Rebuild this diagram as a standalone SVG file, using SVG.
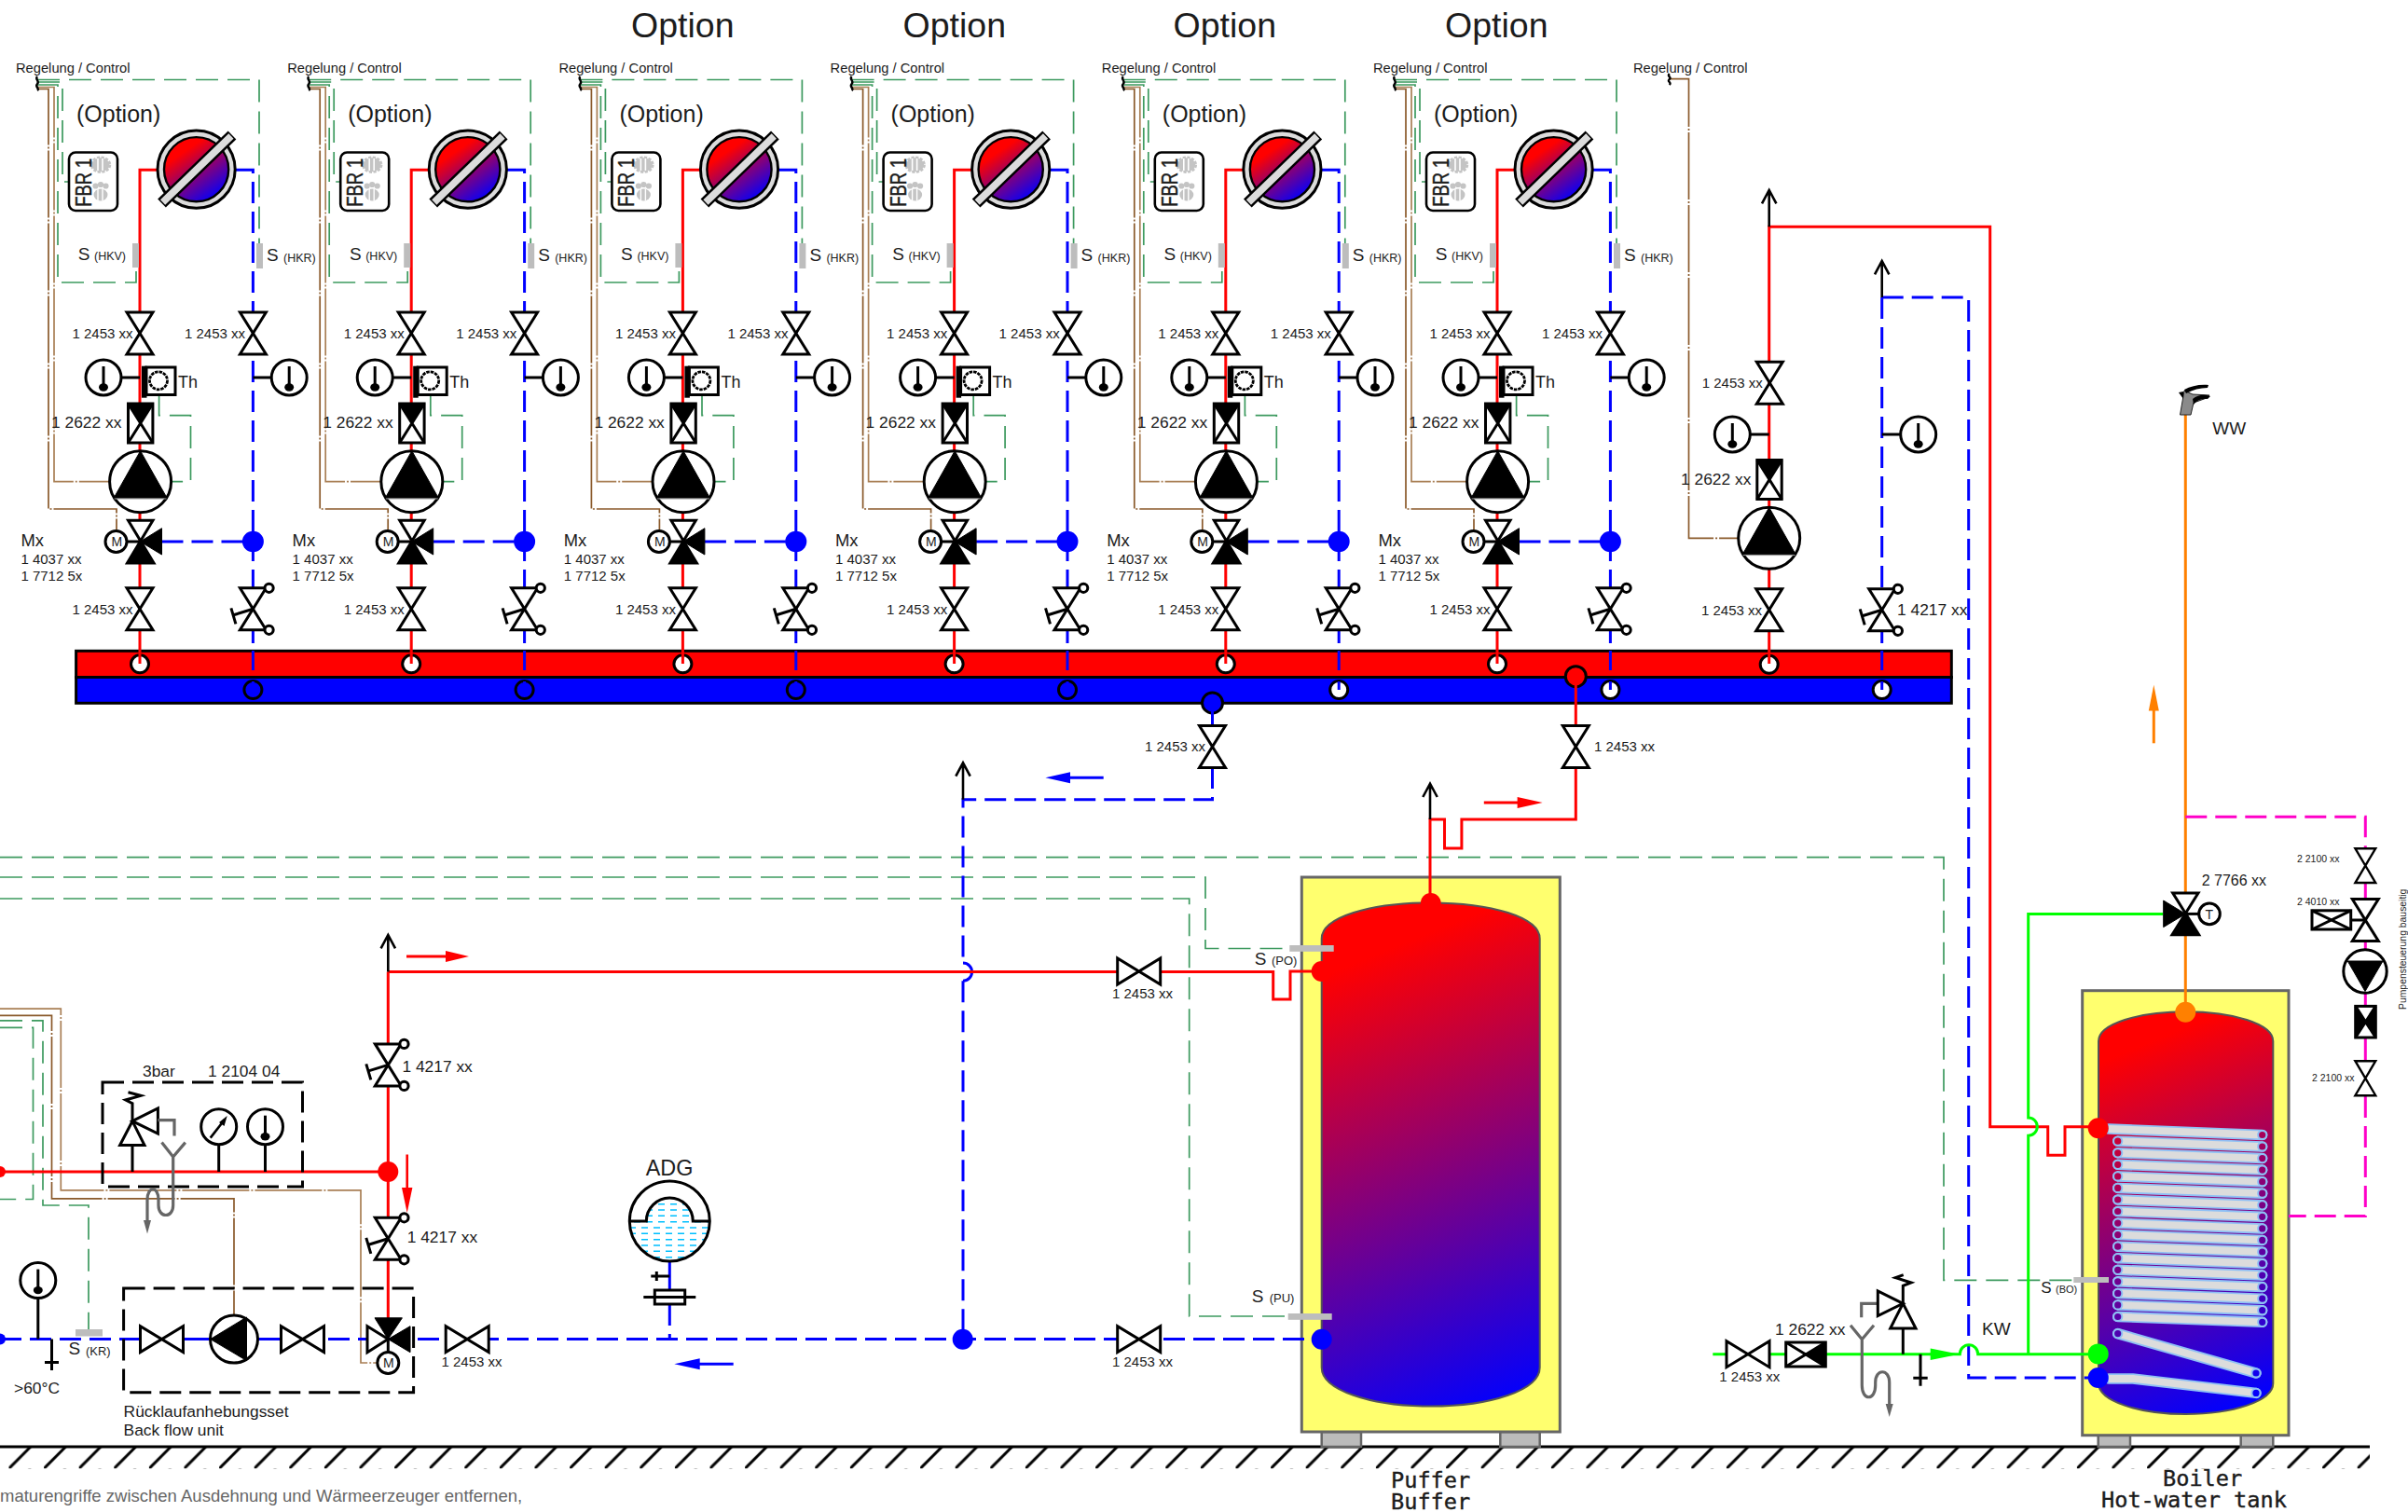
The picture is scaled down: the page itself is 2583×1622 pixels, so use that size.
<svg xmlns="http://www.w3.org/2000/svg" xmlns:xlink="http://www.w3.org/1999/xlink" width="2583" height="1622" viewBox="0 0 2583 1622">
<style>
text{font-family:"Liberation Sans",Arial,sans-serif;fill:#1c1c1c}
.t15{font-size:15px}.t17{font-size:17.4px}.t19{font-size:19px}.t14{font-size:14.7px}
.t12{font-size:12.5px}.t25{font-size:25px}.t37{font-size:37.5px}.t10{font-size:10.5px}.t24{font-size:23.4px}
.fbr{font-size:23px;stroke:#1c1c1c;stroke-width:.4}
.mono{font-family:"DejaVu Sans Mono","Liberation Mono",monospace;font-size:23.6px;stroke:#1c1c1c;stroke-width:.4}
.note{font-size:18.5px;fill:#666}
.p{fill:none}
.red{stroke:#f00;stroke-width:3}
.blue{stroke:#00f;stroke-width:3;stroke-dasharray:23 9}
.blues{stroke:#00f;stroke-width:3}
.green{stroke:#0f0;stroke-width:3}
.orange{stroke:#ff8000;stroke-width:3}
.mag{stroke:#ff00c8;stroke-width:3}
.magd{stroke:#ff00c8;stroke-width:3;stroke-dasharray:23 9}
.ctl{stroke:#3d9a5f;stroke-width:1.7;stroke-dasharray:24 10}
.tan{stroke:#a97f55;stroke-width:1.7;stroke-dasharray:72 2 2 2}
.brn{stroke:#8a5a2b;stroke-width:1.7;stroke-dasharray:72 2 2 2}
.k{fill:none;stroke:#000;stroke-width:3}
.kb{fill:none;stroke:#000;stroke-width:3;stroke-dasharray:23 9}
.w{fill:#fff;stroke:#000;stroke-width:3}
.b{fill:#000;stroke:#000;stroke-width:1}
.drain{fill:none;stroke:#666;stroke-width:3.2}
.sens{fill:#bdbdbd}
.tank{stroke:#666;stroke-width:3;fill:#ffff6e}
.foot{stroke:#666;stroke-width:2.5;fill:#bbb}
.ce{fill:url(#gB);stroke:#8fc0f5;stroke-width:2}
</style>
<defs>
<linearGradient id="gR" x1="0.22" y1="0.1" x2="0.8" y2="0.95"><stop offset="0.15" stop-color="#f00"/><stop offset="1" stop-color="#00f"/></linearGradient>
<linearGradient id="gP" gradientUnits="userSpaceOnUse" x1="1440" y1="1010" x2="1640" y2="1500"><stop offset="0.05" stop-color="#f00"/><stop offset="1" stop-color="#00f"/></linearGradient>
<linearGradient id="gB" gradientUnits="userSpaceOnUse" x1="2270" y1="1110" x2="2430" y2="1500"><stop offset="0.05" stop-color="#f00"/><stop offset="1" stop-color="#00f"/></linearGradient>
<pattern id="hatch" patternUnits="userSpaceOnUse" x="9.5" y="1552" width="37.6" height="23.5"><path d="M0,23.5L23.4,0" stroke="#000" stroke-width="3"/></pattern>
<clipPath id="adgClip"><path d="M675.3,1310H693.3A25,25 0 0 1 743.3,1310H761.3A43,43 0 0 1 675.3,1310Z"/></clipPath>

<path id="gv" class="w" d="M-14,-22.5H14L-14,22.5H14Z"/>
<path id="gh" class="w" d="M-23,-14V14L23,-14V14Z"/>
<g id="hv"><use href="#gv"/><circle class="w" cx="17.2" cy="-22.5" r="4.6"/><circle class="w" cx="17.2" cy="22.5" r="4.6"/><path class="k" d="M0,0L-21,6.5M-23.5,-1L-18.5,16"/></g>
<g id="cv"><rect class="w" x="-13.2" y="-21" width="26.4" height="42"/><path class="b" d="M-13.2,-21H13.2L0,0Z"/><path class="k" d="M-13.2,-21L13.2,21M13.2,-21L-13.2,21"/></g>
<g id="pumpUp"><circle class="w" r="33"/><path class="b" d="M0,-33L28.5,17.5H-28.5Z"/><path d="M-28,18.3H28" stroke="#999" stroke-width="1"/></g>
<g id="th"><circle class="w" r="19"/><path d="M0,-12V10" stroke="#000" stroke-width="3"/><ellipse cx="0" cy="10.5" rx="5" ry="4.2" fill="#000"/></g>

<g id="colPipes" fill="none">
<path class="ctl" d="M40,85.5H278V262"/>
<path class="ctl" d="M40,88H67V195H74"/>
<path class="ctl" d="M40,91H62V303H146V287"/>
<path class="tan" d="M40,93.5H58V516.7H118"/>
<path class="brn" d="M40,95.5H52V546H125V568"/>
<path class="ctl" d="M170.6,423V445.7H204.5V516.7H184"/>
<path class="red" d="M172,182.3H150V712"/>
<path class="blue" d="M252,182.3H271.4V690"/>
<path class="blue" d="M173.5,581H262"/>
<path class="blues" d="M271.4,698V719M271.4,731V740"/>
<path d="M130,405H150M271.4,405H291" stroke="#000" stroke-width="3"/>
</g>

<g id="colNode">
<path d="M40,82c-3,3 3,5 0,8c-3,3 3,5 0,7" fill="none" stroke="#000" stroke-width="2.4"/>
<g id="fbr"><rect x="74" y="163.5" width="52" height="62.5" rx="7" fill="#fff" stroke="#000" stroke-width="2.6"/>
<ellipse cx="108" cy="176.7" rx="9.5" ry="7.5" fill="#c4c4c4" stroke="#c4c4c4" stroke-width="3.5" stroke-dasharray="3 1.5"/><path d="M105,170V183M110,170V183" stroke="#fff" stroke-width="1.6"/>
<ellipse cx="108" cy="209" rx="7.5" ry="6.5" fill="#c4c4c4"/><circle cx="102.5" cy="199.5" r="3.1" fill="#c4c4c4"/><circle cx="108" cy="198" r="3.1" fill="#c4c4c4"/><circle cx="113.5" cy="199.5" r="3.1" fill="#c4c4c4"/><path d="M105,203V215M110,203V215" stroke="#fff" stroke-width="1.4"/></g>
<circle cx="210.6" cy="181.7" r="41.6" fill="#dcdcdc" stroke="#000" stroke-width="3"/>
<circle cx="210.6" cy="181.7" r="34.6" fill="url(#gR)" stroke="#000" stroke-width="2.4"/>
<path d="M173.5,218L249,145" stroke="#000" stroke-width="12.5"/>
<path d="M174.6,217L247.9,146" stroke="#dcdcdc" stroke-width="7.5"/>
<rect class="sens" x="142" y="261" width="7" height="26"/>
<rect class="sens" x="275" y="261" width="7" height="27"/>
<use href="#gv" x="150" y="357.5"/><use href="#gv" x="271.4" y="357.5"/>
<use href="#th" x="111" y="405"/><use href="#th" x="310.2" y="405"/>
<rect x="152" y="392.7" width="5.5" height="34" fill="#000"/><rect class="w" x="157" y="394" width="31" height="29.5" stroke-width="2.6"/>
<circle cx="170" cy="408.3" r="9.5" fill="#fff" stroke="#000" stroke-width="2.8" stroke-dasharray="3.5 1"/>
<use href="#cv" x="150.7" y="454"/>
<use href="#pumpUp" x="150.6" y="516.7"/>
<path class="w" d="M137.5,558.3H164L136.5,604H165Z"/>
<path class="b" d="M150.4,581L136.5,604H165ZM150.4,581L173.5,566.7V595Z"/>
<path class="k" d="M124.5,581H150"/>
<circle class="w" cx="124.5" cy="581" r="11.5" stroke-width="2.5"/>
<ellipse cx="271.4" cy="581" rx="11.5" ry="11.2" fill="#00f"/>
<use href="#gv" x="150" y="653.3"/><use href="#hv" x="271.4" y="653.3"/>
</g>
</defs>

<rect width="2583" height="1622" fill="#fff"/>
<g id="ground"><rect x="0" y="1552" width="2542" height="23.5" fill="url(#hatch)"/><path d="M0,1552H2542" stroke="#000" stroke-width="3"/></g>

<g id="puffer-body">
<rect class="foot" x="1417.7" y="1536" width="42.3" height="16"/><rect class="foot" x="1609.3" y="1536" width="42.4" height="16"/>
<rect class="tank" x="1396.3" y="941" width="277" height="595"/>
<path d="M1417.7,1007C1417.7,984 1470,968.4 1534.7,968.4S1651.7,984 1651.7,1007V1467C1651.7,1491 1600,1508.6 1534.7,1508.6S1417.7,1491 1417.7,1467Z" fill="url(#gP)" stroke="#555" stroke-width="2"/>
</g>
<g id="boiler-body">
<rect class="foot" x="2250.7" y="1539.7" width="34.3" height="12.3"/><rect class="foot" x="2403.7" y="1539.7" width="34.6" height="12.3"/>
<rect class="tank" x="2233.7" y="1062.7" width="221.3" height="477"/>
<path d="M2251,1117C2251,1098 2295,1085.3 2344.6,1085.3S2438.3,1098 2438.3,1117V1484C2438.3,1503 2395,1517 2344.6,1517S2251,1503 2251,1484Z" fill="url(#gB)" stroke="#555" stroke-width="2"/>
</g>
<g id="manifold">
<rect x="81.6" y="698.3" width="2011.7" height="28.2" fill="#f00" stroke="#000" stroke-width="3"/>
<rect x="81.6" y="726.5" width="2011.7" height="27.8" fill="#00f" stroke="#000" stroke-width="3"/>
<g class="w"><circle class="w" cx="150" cy="712.3" r="9.5"/><circle class="w" cx="441.2" cy="712.3" r="9.5"/><circle class="w" cx="732.4" cy="712.3" r="9.5"/><circle class="w" cx="1023.6" cy="712.3" r="9.5"/><circle class="w" cx="1314.8" cy="712.3" r="9.5"/><circle class="w" cx="1606" cy="712.3" r="9.5"/><circle class="w" cx="1897.7" cy="712.8" r="9.5"/>
<circle class="w" cx="1436.2" cy="740" r="9.5"/><circle class="w" cx="1727.4" cy="740" r="9.5"/><circle class="w" cx="2018.7" cy="740" r="9.5"/></g>
<g fill="#00f" stroke="#000" stroke-width="3"><circle cx="271.4" cy="740" r="9.5"/><circle cx="562.6" cy="740" r="9.5"/><circle cx="853.8" cy="740" r="9.5"/><circle cx="1145" cy="740" r="9.5"/><circle cx="1300.5" cy="754" r="11"/></g>
<circle cx="1690.3" cy="725.7" r="11" fill="#f00" stroke="#000" stroke-width="3"/>
</g>

<g id="connectors" fill="none">
<use href="#colPipes"/><use href="#colPipes" transform="translate(291.2 0)"/><use href="#colPipes" transform="translate(582.4 0)"/><use href="#colPipes" transform="translate(873.6 0)"/><use href="#colPipes" transform="translate(1164.8 0)"/><use href="#colPipes" transform="translate(1456 0)"/>
<path class="brn" d="M1790.7,84.7H1811.5V577.3H1865"/>
<path class="red" d="M1897.7,712V243.3H2134.7V1208.7H2196.7V1239.3H2215V1208.7H2250"/>
<path class="blue" d="M2018.7,319V690"/>
<path class="blues" d="M2018.7,698V719M2018.7,731V740"/>
<path class="blue" d="M2018.7,319H2111.7V1478H2250"/>
<path d="M1858,466H1897.7M2018.7,466H2057" stroke="#000" stroke-width="3"/>
<path class="ctl" d="M0,919.7H2085V1373.4H2224"/>
<path class="ctl" d="M0,941H1293V1017.5H1383"/>
<path class="ctl" d="M0,964H1275.7V1412H1381.7"/>
<path class="ctl" d="M0,1094.8H46V1293H95V1426"/>
<path class="ctl" d="M0,1102.3H35.5V1286.5H0"/>
<path class="tan" d="M0,1082.2H65.3V1276.8H387V1462H405"/>
<path class="brn" d="M0,1089.4H55.5V1285.8H251V1411"/>
<path class="blues" d="M1300.5,754V780"/>
<path class="blue" d="M1300.5,823V857.7H1033V1033"/>
<path class="blues" d="M1033,1033A9.6,9.6 0 0 1 1033,1052.2"/>
<path class="blue" d="M1033,1052.2V1436.7"/>
<path class="red" d="M1690.3,726V879H1567.9V910H1549.5V879H1534V969"/>
<path class="red" d="M0,1257H416.3"/>
<path class="red" d="M416.3,1042.6V1415"/>
<path class="red" d="M416.3,1042.6H1365.7V1072H1384V1042H1417.7"/>
<path class="blue" d="M0,1436.6H1417"/>
<path class="blues" d="M150,1436.6H302"/>
<path class="blues" d="M718.3,1353V1384"/>
<path class="blue" d="M718.3,1399V1436.6"/>
<path d="M698.3,1369H718.3M704.3,1364V1374" stroke="#000" stroke-width="3"/>
<path class="orange" d="M2344.3,1085.5V445"/>
<path class="green" d="M1837.3,1452.7H2102.3A9.7,10 0 0 1 2121.7,1452.7H2250"/>
<path class="green" d="M2320,980.4H2175.7V1199A9.5,9.5 0 0 1 2175.7,1218.2V1452.7"/>
<path class="magd" d="M2344.3,876.3H2537.3V912"/>
<path class="mag" d="M2537.3,947V1138"/>
<path class="magd" d="M2537.3,1176V1304.4H2455"/>
<path d="M1897.7,243.3V206M1890,218.3L1897.7,204L1905.4,218.3M2018.7,319V282M2011,294.3L2018.7,280L2026.4,294.3M1033,857.7V820M1025.3,832.6L1033,818.3L1040.7,832.6M1534,879V842.5M1526.3,855L1534,840.7L1541.7,855M416.3,1042.6V1005M408.6,1017.3L416.3,1003L424,1017.3" stroke="#000" stroke-width="2.6" fill="none"/>
<path d="M1183.7,834.3H1140" stroke="#00f" stroke-width="3"/><path d="M1121.4,834.3L1148,828.3V840.3Z" fill="#00f"/>
<path d="M1591.8,861H1635" stroke="#f00" stroke-width="3"/><path d="M1654.6,861L1627.6,855V867Z" fill="#f00"/>
<path d="M436,1026H485" stroke="#f00" stroke-width="3"/><path d="M503,1026L478,1020V1032Z" fill="#f00"/>
<path d="M436.7,1238.5V1285" stroke="#f00" stroke-width="2.6"/><path d="M436.7,1301L431,1274H442.4Z" fill="#f00"/>
<path d="M786.7,1463.3H745" stroke="#00f" stroke-width="3"/><path d="M723.3,1463.3L750.7,1457.3V1469.3Z" fill="#00f"/>
<path d="M2310.3,797.3V755" stroke="#ff8000" stroke-width="3"/><path d="M2310.3,734.8L2304.8,762.5H2315.8Z" fill="#ff8000"/>
<path d="M2070.7,1452.7H2085" stroke="#0f0" stroke-width="3"/><path d="M2101.7,1452.7L2070.7,1446.5V1458.9Z" fill="#0f0"/>
</g>

<g id="options"><text class="t37" x="677" y="40">Option</text><text class="t37" x="968.6" y="40">Option</text><text class="t37" x="1258.6" y="40">Option</text><text class="t37" x="1550" y="40">Option</text></g>

<g id="column-1"><use href="#colNode"/>
<text class="t14" x="17" y="78">Regelung / Control</text><text class="t25" x="82" y="131">(Option)</text><text class="fbr" transform="translate(98 221.7) rotate(-90)" textLength="52" lengthAdjust="spacingAndGlyphs">FBR 1</text>
<text class="t19" x="83.7" y="279">S</text><text class="t12" x="101" y="279">(HKV)</text><text class="t19" x="286" y="280">S</text><text class="t12" x="304" y="281">(HKR)</text>
<text class="t15" x="77.5" y="363">1 2453 xx</text><text class="t15" x="198" y="363">1 2453 xx</text><text font-size="18" x="191" y="415.7">Th</text><text class="t17" x="55" y="459">1 2622 xx</text>
<text font-size="14" x="119.5" y="586">M</text><text font-size="18.4" x="22.4" y="586">Mx</text><text class="t15" x="22.4" y="605">1 4037 xx</text><text class="t15" x="22.4" y="623">1 7712 5x</text><text class="t15" x="77.5" y="659.3">1 2453 xx</text></g>
<g id="column-2" transform="translate(291.2 0)"><use href="#colNode"/>
<text class="t14" x="17" y="78">Regelung / Control</text><text class="t25" x="82" y="131">(Option)</text><text class="fbr" transform="translate(98 221.7) rotate(-90)" textLength="52" lengthAdjust="spacingAndGlyphs">FBR 1</text>
<text class="t19" x="83.7" y="279">S</text><text class="t12" x="101" y="279">(HKV)</text><text class="t19" x="286" y="280">S</text><text class="t12" x="304" y="281">(HKR)</text>
<text class="t15" x="77.5" y="363">1 2453 xx</text><text class="t15" x="198" y="363">1 2453 xx</text><text font-size="18" x="191" y="415.7">Th</text><text class="t17" x="55" y="459">1 2622 xx</text>
<text font-size="14" x="119.5" y="586">M</text><text font-size="18.4" x="22.4" y="586">Mx</text><text class="t15" x="22.4" y="605">1 4037 xx</text><text class="t15" x="22.4" y="623">1 7712 5x</text><text class="t15" x="77.5" y="659.3">1 2453 xx</text></g>
<g id="column-3" transform="translate(582.4 0)"><use href="#colNode"/>
<text class="t14" x="17" y="78">Regelung / Control</text><text class="t25" x="82" y="131">(Option)</text><text class="fbr" transform="translate(98 221.7) rotate(-90)" textLength="52" lengthAdjust="spacingAndGlyphs">FBR 1</text>
<text class="t19" x="83.7" y="279">S</text><text class="t12" x="101" y="279">(HKV)</text><text class="t19" x="286" y="280">S</text><text class="t12" x="304" y="281">(HKR)</text>
<text class="t15" x="77.5" y="363">1 2453 xx</text><text class="t15" x="198" y="363">1 2453 xx</text><text font-size="18" x="191" y="415.7">Th</text><text class="t17" x="55" y="459">1 2622 xx</text>
<text font-size="14" x="119.5" y="586">M</text><text font-size="18.4" x="22.4" y="586">Mx</text><text class="t15" x="22.4" y="605">1 4037 xx</text><text class="t15" x="22.4" y="623">1 7712 5x</text><text class="t15" x="77.5" y="659.3">1 2453 xx</text></g>
<g id="column-4" transform="translate(873.6 0)"><use href="#colNode"/>
<text class="t14" x="17" y="78">Regelung / Control</text><text class="t25" x="82" y="131">(Option)</text><text class="fbr" transform="translate(98 221.7) rotate(-90)" textLength="52" lengthAdjust="spacingAndGlyphs">FBR 1</text>
<text class="t19" x="83.7" y="279">S</text><text class="t12" x="101" y="279">(HKV)</text><text class="t19" x="286" y="280">S</text><text class="t12" x="304" y="281">(HKR)</text>
<text class="t15" x="77.5" y="363">1 2453 xx</text><text class="t15" x="198" y="363">1 2453 xx</text><text font-size="18" x="191" y="415.7">Th</text><text class="t17" x="55" y="459">1 2622 xx</text>
<text font-size="14" x="119.5" y="586">M</text><text font-size="18.4" x="22.4" y="586">Mx</text><text class="t15" x="22.4" y="605">1 4037 xx</text><text class="t15" x="22.4" y="623">1 7712 5x</text><text class="t15" x="77.5" y="659.3">1 2453 xx</text></g>
<g id="column-5" transform="translate(1164.8 0)"><use href="#colNode"/>
<text class="t14" x="17" y="78">Regelung / Control</text><text class="t25" x="82" y="131">(Option)</text><text class="fbr" transform="translate(98 221.7) rotate(-90)" textLength="52" lengthAdjust="spacingAndGlyphs">FBR 1</text>
<text class="t19" x="83.7" y="279">S</text><text class="t12" x="101" y="279">(HKV)</text><text class="t19" x="286" y="280">S</text><text class="t12" x="304" y="281">(HKR)</text>
<text class="t15" x="77.5" y="363">1 2453 xx</text><text class="t15" x="198" y="363">1 2453 xx</text><text font-size="18" x="191" y="415.7">Th</text><text class="t17" x="55" y="459">1 2622 xx</text>
<text font-size="14" x="119.5" y="586">M</text><text font-size="18.4" x="22.4" y="586">Mx</text><text class="t15" x="22.4" y="605">1 4037 xx</text><text class="t15" x="22.4" y="623">1 7712 5x</text><text class="t15" x="77.5" y="659.3">1 2453 xx</text></g>
<g id="column-6" transform="translate(1456 0)"><use href="#colNode"/>
<text class="t14" x="17" y="78">Regelung / Control</text><text class="t25" x="82" y="131">(Option)</text><text class="fbr" transform="translate(98 221.7) rotate(-90)" textLength="52" lengthAdjust="spacingAndGlyphs">FBR 1</text>
<text class="t19" x="83.7" y="279">S</text><text class="t12" x="101" y="279">(HKV)</text><text class="t19" x="286" y="280">S</text><text class="t12" x="304" y="281">(HKR)</text>
<text class="t15" x="77.5" y="363">1 2453 xx</text><text class="t15" x="198" y="363">1 2453 xx</text><text font-size="18" x="191" y="415.7">Th</text><text class="t17" x="55" y="459">1 2622 xx</text>
<text font-size="14" x="119.5" y="586">M</text><text font-size="18.4" x="22.4" y="586">Mx</text><text class="t15" x="22.4" y="605">1 4037 xx</text><text class="t15" x="22.4" y="623">1 7712 5x</text><text class="t15" x="77.5" y="659.3">1 2453 xx</text></g>

<g id="column-7">
<path d="M1790.7,79c-3,3 3,4 0,6c-3,3 3,3 0,6" fill="none" stroke="#000" stroke-width="2.4"/>
<text class="t14" x="1752" y="78">Regelung / Control</text>
<use href="#gv" x="1898.3" y="410.7"/><text class="t15" x="1825.7" y="416">1 2453 xx</text>
<use href="#th" x="1858.3" y="466"/><use href="#th" x="2057.7" y="466"/>
<use href="#cv" x="1898" y="514.5"/><text class="t17" x="1803" y="520">1 2622 xx</text>
<use href="#pumpUp" x="1897.7" y="577.3"/>
<use href="#gv" x="1897.7" y="654.3"/><text class="t15" x="1825" y="660">1 2453 xx</text>
<use href="#hv" x="2018.7" y="654.3"/><text class="t17" x="2035" y="660">1 4217 xx</text>
</g>

<g id="discharge-valves">
<use href="#gv" x="1300.5" y="801"/><text class="t15" x="1228" y="806">1 2453 xx</text>
<use href="#gv" x="1690.3" y="801"/><text class="t15" x="1710" y="806">1 2453 xx</text>
</g>

<g id="safety-group">
<rect x="110" y="1161" width="214.5" height="112" class="kb"/>
<text class="t17" x="153" y="1155">3bar</text><text class="t17" x="223" y="1155">1 2104 04</text>
<path class="k" d="M142,1257V1228.5M234.7,1257V1227M284.5,1257V1227"/>
<path class="w" d="M142,1202.7L128.6,1228.5H155Z"/><path class="w" d="M142,1202.7L169.4,1189V1216Z"/>
<path class="k" d="M142,1202.7V1183.6L134.7,1180L151,1175.4L137.5,1171.8"/>
<path class="drain" d="M169.4,1201.6H187V1218.4"/>
<path class="drain" d="M173.5,1225.6L185.7,1241L198.8,1225.6M185.7,1241V1293C185.7,1307 170,1307 170,1293V1287C170,1272 158,1272 158,1287V1312"/>
<path d="M158,1323.4L154,1309H162Z" fill="#666"/>
<circle class="w" cx="234.7" cy="1208.7" r="19"/><path d="M225.7,1220.6L241,1201" stroke="#000" stroke-width="2.6"/><path d="M243.7,1197L235,1204L240.5,1208Z" fill="#000"/>
<use href="#th" x="284.5" y="1208.7"/>
<circle cx="416.3" cy="1257" r="11" fill="#f00"/>
<circle cx="0" cy="1257" r="6" fill="#f00"/>
</g>

<g id="supply-valves">
<use href="#hv" x="416.3" y="1142.4"/><text class="t17" x="431.4" y="1149.6">1 4217 xx</text>
<use href="#hv" x="416.3" y="1328.8"/><text class="t17" x="436.7" y="1333">1 4217 xx</text>
</g>

<g id="backflow-unit">
<rect x="132.6" y="1382" width="311" height="111.7" class="kb"/>
<use href="#gh" x="173.5" y="1436.6"/>
<circle class="w" cx="251" cy="1436.6" r="25.5"/><path class="b" d="M225.7,1436.6L264.5,1413V1459.6Z"/>
<use href="#gh" x="324.5" y="1436.6"/>
<path class="w" d="M394,1422.7L416.3,1436.6L394,1450.7Z"/>
<path class="b" d="M402,1413.8H431.4L416.3,1436.6ZM440,1422.7L416.3,1436.6L440,1450.7Z"/>
<path class="k" d="M416.3,1436.6V1451"/>
<circle class="w" cx="416.3" cy="1462" r="11.5" stroke-width="2.5"/>
<text font-size="14" x="411" y="1467">M</text>
<text class="t17" x="132.6" y="1520">Rücklaufanhebungsset</text><text class="t17" x="132.6" y="1539.6">Back flow unit</text>
</g>

<g id="return-left">
<circle cx="0" cy="1436.6" r="6" fill="#00f"/>
<use href="#th" x="40.8" y="1373.6"/><path class="k" d="M40.8,1392.6V1436.6M55.5,1436.6V1470M48,1461.4H63"/>
<rect class="sens" x="81" y="1426" width="29" height="7.5"/>
<text class="t19" x="73.5" y="1453">S</text><text font-size="12.9" x="92" y="1453.5">(KR)</text>
<text class="t17" x="15" y="1494.8">&gt;60°C</text>
<use href="#gh" x="501.2" y="1436.6"/><text class="t15" x="473.5" y="1466">1 2453 xx</text>
</g>

<g id="adg">
<text class="t24" x="692.7" y="1260.7">ADG</text>
<circle cx="718.3" cy="1310" r="43" fill="#fff"/>
<g clip-path="url(#adgClip)" stroke="#00bfff" stroke-width="1.5" stroke-dasharray="7 6" fill="none">
<path d="M680,1291.7H760M680,1298H760M680,1304.3H760M680,1310.7H760M675,1317H765M675,1323.3H765M675,1329.7H765M675,1336H765M675,1342.3H765M675,1348.7H765"/>
</g>
<circle cx="718.3" cy="1310" r="43" fill="none" stroke="#000" stroke-width="3"/>
<path class="k" d="M675.3,1310H693.3A25,25 0 0 1 743.3,1310H761.3"/>
<rect class="w" x="702.3" y="1384" width="32.4" height="15"/><path class="k" d="M690.3,1391.5H746.3"/>
</g>

<g id="puffer-ports">
<circle cx="1534.7" cy="969" r="11" fill="#f00"/><circle cx="1417.7" cy="1042" r="11" fill="#f00"/><circle cx="1417.7" cy="1436.7" r="11" fill="#00f"/>
<circle cx="1032.7" cy="1436.7" r="11" fill="#00f"/>
<rect class="sens" x="1383.3" y="1014" width="47.4" height="6.8"/><rect class="sens" x="1381.7" y="1409" width="47" height="6.8"/>
<text class="t19" x="1345.7" y="1035">S</text><text font-size="13" x="1364" y="1035">(PO)</text>
<text class="t19" x="1342.7" y="1396.5">S</text><text font-size="13" x="1361.7" y="1396.5">(PU)</text>
<use href="#gh" x="1221.7" y="1042"/><text class="t15" x="1193" y="1071">1 2453 xx</text>
<use href="#gh" x="1221.7" y="1436.6"/><text class="t15" x="1193" y="1466">1 2453 xx</text>
<text class="mono" x="1492" y="1596">Puffer</text><text class="mono" x="1492" y="1619">Buffer</text>
</g>

<g id="coil" fill="none">
<path stroke="#8fc0f5" stroke-width="11.5" stroke-linecap="round" d="M2262,1211L2426.7,1217.5M2271.7,1224.2L2426.7,1230M2271.7,1236.8L2426.7,1242.6M2271.7,1249.3L2426.7,1255.1M2271.7,1261.9L2426.7,1267.7M2271.7,1274.4L2426.7,1280.2M2271.7,1287L2426.7,1292.8M2271.7,1299.5L2426.7,1305.3M2271.7,1312.1L2426.7,1317.9M2271.7,1324.6L2426.7,1330.4M2271.7,1337.2L2426.7,1343M2271.7,1349.7L2426.7,1355.5M2271.7,1362.3L2426.7,1368.1M2271.7,1374.8L2426.7,1380.6M2271.7,1387.4L2426.7,1393.2M2271.7,1399.9L2426.7,1405.7M2271.7,1412.5L2426.7,1418.3M2271.7,1430.6L2420,1473M2262,1479H2288L2420,1494.4"/>
<path stroke="#dcdcdc" stroke-width="7.8" d="M2262,1211L2426.7,1217.5M2271.7,1224.2L2426.7,1230M2271.7,1236.8L2426.7,1242.6M2271.7,1249.3L2426.7,1255.1M2271.7,1261.9L2426.7,1267.7M2271.7,1274.4L2426.7,1280.2M2271.7,1287L2426.7,1292.8M2271.7,1299.5L2426.7,1305.3M2271.7,1312.1L2426.7,1317.9M2271.7,1324.6L2426.7,1330.4M2271.7,1337.2L2426.7,1343M2271.7,1349.7L2426.7,1355.5M2271.7,1362.3L2426.7,1368.1M2271.7,1374.8L2426.7,1380.6M2271.7,1387.4L2426.7,1393.2M2271.7,1399.9L2426.7,1405.7M2271.7,1412.5L2426.7,1418.3M2271.7,1430.6L2420,1473M2262,1479H2288L2420,1494.4"/>
<circle class="ce" cx="2426.7" cy="1217.5" r="4.6"/><circle class="ce" cx="2426.7" cy="1230" r="4.6"/><circle class="ce" cx="2426.7" cy="1242.6" r="4.6"/><circle class="ce" cx="2426.7" cy="1255.1" r="4.6"/><circle class="ce" cx="2426.7" cy="1267.7" r="4.6"/><circle class="ce" cx="2426.7" cy="1280.2" r="4.6"/><circle class="ce" cx="2426.7" cy="1292.8" r="4.6"/><circle class="ce" cx="2426.7" cy="1305.3" r="4.6"/><circle class="ce" cx="2426.7" cy="1317.9" r="4.6"/><circle class="ce" cx="2426.7" cy="1330.4" r="4.6"/><circle class="ce" cx="2426.7" cy="1343" r="4.6"/><circle class="ce" cx="2426.7" cy="1355.5" r="4.6"/><circle class="ce" cx="2426.7" cy="1368.1" r="4.6"/><circle class="ce" cx="2426.7" cy="1380.6" r="4.6"/><circle class="ce" cx="2426.7" cy="1393.2" r="4.6"/><circle class="ce" cx="2426.7" cy="1405.7" r="4.6"/><circle class="ce" cx="2426.7" cy="1418.3" r="4.6"/>
<circle class="ce" cx="2271.7" cy="1224.2" r="4.6"/><circle class="ce" cx="2271.7" cy="1236.8" r="4.6"/><circle class="ce" cx="2271.7" cy="1249.3" r="4.6"/><circle class="ce" cx="2271.7" cy="1261.9" r="4.6"/><circle class="ce" cx="2271.7" cy="1274.4" r="4.6"/><circle class="ce" cx="2271.7" cy="1287" r="4.6"/><circle class="ce" cx="2271.7" cy="1299.5" r="4.6"/><circle class="ce" cx="2271.7" cy="1312.1" r="4.6"/><circle class="ce" cx="2271.7" cy="1324.6" r="4.6"/><circle class="ce" cx="2271.7" cy="1337.2" r="4.6"/><circle class="ce" cx="2271.7" cy="1349.7" r="4.6"/><circle class="ce" cx="2271.7" cy="1362.3" r="4.6"/><circle class="ce" cx="2271.7" cy="1374.8" r="4.6"/><circle class="ce" cx="2271.7" cy="1387.4" r="4.6"/><circle class="ce" cx="2271.7" cy="1399.9" r="4.6"/><circle class="ce" cx="2271.7" cy="1412.5" r="4.6"/>
<circle class="ce" cx="2271.7" cy="1430.6" r="4.6"/><circle class="ce" cx="2420" cy="1473" r="4.6"/><circle class="ce" cx="2420" cy="1494.4" r="4.6"/>
</g>

<g id="boiler-ports">
<circle cx="2250.7" cy="1210.3" r="11" fill="#f00"/><circle cx="2250.7" cy="1452.4" r="11" fill="#0f0"/><circle cx="2250.7" cy="1478" r="11" fill="#00f"/><circle cx="2344.3" cy="1085.7" r="11" fill="#ff8000"/>
<rect class="sens" x="2224.3" y="1370" width="37.7" height="6"/>
<text font-size="17" x="2189.3" y="1387.3">S</text><text font-size="11" x="2205" y="1387">(BO)</text>
<text class="mono" x="2320" y="1594">Boiler</text><text class="mono" x="2254" y="1617">Hot-water tank</text>
</g>

<g id="cold-water">
<use href="#gh" x="1875" y="1452.7"/><text class="t15" x="1844.3" y="1481.7">1 2453 xx</text>
<rect class="w" x="1915.7" y="1440" width="42.6" height="26"/><path class="b" d="M1958.3,1440V1466L1937,1453Z"/><path class="k" d="M1915.7,1440L1958.3,1466M1958.3,1440L1915.7,1466"/>
<text class="t17" x="1904" y="1431.7">1 2622 xx</text>
<path class="drain" d="M1985,1421.7L1997.3,1436.7L2010,1421.7M1997.3,1436.7V1486C1997.3,1503 2011.7,1503 2011.7,1486V1483C2011.7,1468 2026.7,1468 2026.7,1483V1509"/>
<path d="M2026.7,1520L2022.7,1506H2030.7Z" fill="#666"/>
<path class="drain" d="M2014.3,1398.3H1996.7V1413.3"/>
<path class="k" d="M2041.3,1452.7V1425"/>
<path class="w" d="M2041.3,1398.3L2027.7,1425H2055Z"/><path class="w" d="M2041.3,1398.3L2014.3,1385V1411.7Z"/>
<path class="k" d="M2041.3,1398.3V1379.3L2050,1376L2033.3,1370.7L2041.7,1367.7"/>
<path class="k" d="M2060,1452.7V1486.7M2052.3,1478.3H2067.7"/>
<text class="t19" x="2126" y="1431.7">KW</text>
</g>

<g id="mixing-valve">
<path class="w" d="M2330.7,958H2358L2330,1002.7H2358.7Z"/>
<path class="b" d="M2344.3,980.4L2330,1002.7H2358.7ZM2344.3,980.4L2320.7,966V994.6Z"/>
<path class="k" d="M2344.3,980.4H2360"/><circle class="w" cx="2370" cy="980.4" r="11.3" stroke-width="2.5"/>
<text font-size="14" x="2365.5" y="985.5">T</text>
<text font-size="16" x="2361.7" y="950">2 7766 xx</text>
<g id="faucet"><path d="M2338.5,445H2350L2353,432L2367,427L2370,424L2352,423L2343,419Z" fill="#8a8a8a" stroke="#222" stroke-width="1"/>
<path d="M2343,418C2350,414 2360,412 2369,413L2368,416C2360,416 2352,418 2345,422Z" fill="#000"/>
<path d="M2352,428C2358,423 2365,423 2371,425L2368,428C2362,427 2357,429 2353,434Z" fill="#000"/>
<path d="M2337,421L2342,420L2342,428Z" fill="#000"/></g>
<text class="t19" x="2373.3" y="465.6">WW</text>
</g>

<g id="circulation">
<g transform="translate(2537.3 928.6) scale(.78 .82)"><use href="#gv"/></g>
<text class="t10" x="2464" y="924.5">2 2100 xx</text>
<use href="#gv" x="2537.3" y="987"/>
<rect class="w" x="2480" y="976.8" width="41.7" height="20.2"/><path class="k" d="M2480,976.8L2521.7,997M2521.7,976.8L2480,997M2521.7,987H2537.3"/>
<text class="t10" x="2464" y="971.4">2 4010 xx</text>
<circle class="w" cx="2537" cy="1042" r="23.2"/><path class="b" d="M2537,1063.5L2518.3,1031H2556Z"/>
<rect class="w" x="2526.7" y="1079.4" width="21.6" height="33.6" stroke-width="3.2"/><path class="b" d="M2526.7,1079.4L2537.5,1096.2L2526.7,1113ZM2548.3,1079.4L2537.5,1096.2L2548.3,1113Z"/><path class="k" d="M2526.7,1079.4L2548.3,1113M2548.3,1079.4L2526.7,1113"/>
<g transform="translate(2537.3 1156.7) scale(.78 .82)"><use href="#gv"/></g>
<text class="t10" x="2480" y="1159.5">2 2100 xx</text>
<text transform="translate(2581 1083) rotate(-90)" font-size="10.4">Pumpensteuerung bauseitig</text>
</g>

<text class="note" x="0" y="1611">maturengriffe zwischen Ausdehnung und Wärmeerzeuger entfernen,</text>
</svg>
